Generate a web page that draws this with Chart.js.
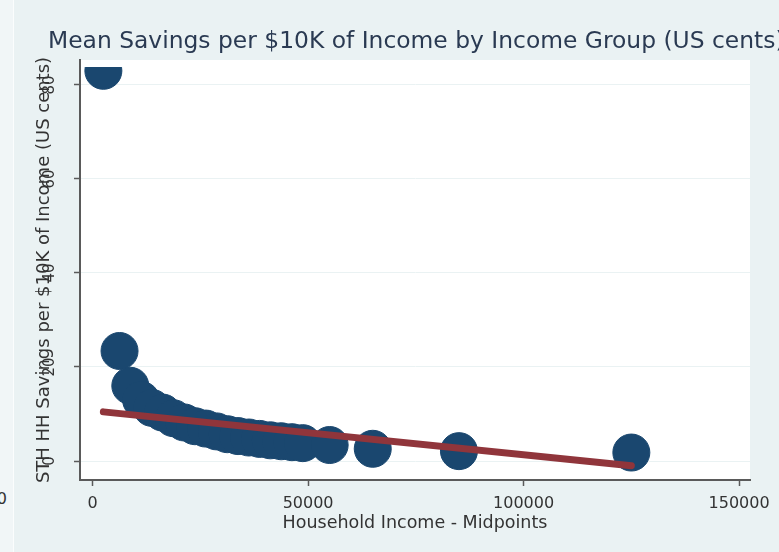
<!DOCTYPE html>
<html>
<head>
<meta charset="utf-8">
<title>Mean Savings per $10K of Income by Income Group</title>
<script src="https://cdn.jsdelivr.net/npm/chart.js@4.4.1/dist/chart.umd.min.js"></script>
<style>
    html, body { margin: 0; padding: 0; }
    body {
        width: 779px;
        height: 552px;
        overflow: hidden;
        position: relative;
        background: #eaf2f3;
        font-family: 'DejaVu Sans', sans-serif;
    }
    /* edge of the neighbouring panel */
    #strip {
        position: absolute;
        left: 0;
        top: 0;
        width: 13px;
        height: 552px;
        background: #f1f6f7;
        border-right: 1px solid #fbfdfd;
        overflow: hidden;
    }
    #strip span {
        position: absolute;
        right: 6px;
        top: 489px;
        font-size: 16px;
        color: #333;
        white-space: nowrap;
    }
    #chart { position: absolute; left: 0; top: 0; }
</style>
</head>
<body>
<div id="strip"><span>150000</span></div>
<canvas id="chart" width="779" height="552"></canvas>
<script>
// Income group midpoints (US$) and mean savings per $10K of income (US cents)
const incomeMidpoints = [
    2500, 6250, 8750, 11250, 13750, 16250, 18750, 21250, 23750, 26250,
    28750, 31250, 33750, 36250, 38750, 41250, 43750, 46250, 48750,
    55000, 65000, 85000, 125000
];
const savingsPer10k = [
    83.0, 23.4, 16.0, 13.0, 11.3, 10.3, 9.1, 8.2, 7.4, 6.9,
    6.3, 5.7, 5.3, 5.0, 4.7, 4.4, 4.2, 4.0, 3.8,
    3.4, 2.6, 2.1, 1.8
];

// Linear fit, evaluated at the two ends of the income range
const fitIncome = [2500, 125000];
const fitSavings = [10.45, -1.0];

const xTicks = [0, 50000, 100000, 150000];
const yTicks = [0, 20, 40, 60, 80];

const titleText = 'Mean Savings per $10K of Income by Income Group (US cents)';
const xTitle = 'Household Income - Midpoints';
const yTitle = 'STH HH Savings per $10K of Income (US cents)';

const FONT = "'DejaVu Sans', sans-serif";
const NAVY = '#1a476f';
const MAROON = '#90353b';
const AXIS = '#5a5a5a';
const TEXT = '#333333';

function toPoints(xs, ys) {
    return xs.map((x, i) => ({ x: x, y: ys[i] }));
}

// White plot region behind the grid
const plotBackground = {
    id: 'plotBackground',
    beforeDraw(chart) {
        const { ctx, chartArea } = chart;
        ctx.save();
        ctx.fillStyle = '#ffffff';
        ctx.fillRect(chartArea.left, chartArea.top,
            chartArea.right - chartArea.left, chartArea.bottom - chartArea.top);
        ctx.restore();
    }
};

// Left-aligned title that runs past the right edge
const leftTitle = {
    id: 'leftTitle',
    afterDraw(chart) {
        const ctx = chart.ctx;
        ctx.save();
        ctx.font = '23.4px ' + FONT;
        ctx.fillStyle = '#2a3a52';
        ctx.textAlign = 'left';
        ctx.textBaseline = 'alphabetic';
        ctx.fillText(titleText, 48, 48);
        ctx.restore();
    }
};

new Chart(document.getElementById('chart'), {
    type: 'scatter',
    data: {
        datasets: [{
            label: 'Fitted values',
            data: toPoints(fitIncome, fitSavings),
            showLine: true,
            borderColor: MAROON,
            borderWidth: 7,
            borderCapStyle: 'round',
            pointRadius: 0,
            pointHoverRadius: 0,
            order: 0
        }, {
            label: 'Mean savings',
            data: toPoints(incomeMidpoints, savingsPer10k),
            backgroundColor: NAVY,
            borderColor: NAVY,
            borderWidth: 1,
            pointRadius: 18.5,
            pointHoverRadius: 18.5,
            clip: { left: false, right: false, bottom: false, top: -7 },
            order: 1
        }]
    },
    options: {
        responsive: false,
        devicePixelRatio: 1,
        animation: false,
        layout: {
            padding: { left: 0, top: 60, right: 29, bottom: 0 }
        },
        plugins: {
            legend: { display: false },
            title: { display: false },
            tooltip: { enabled: false }
        },
        scales: {
            x: {
                type: 'linear',
                position: 'bottom',
                min: -2923,
                max: 152529,
                afterBuildTicks: scale => {
                    scale.ticks = xTicks.map(v => ({ value: v }));
                },
                afterFit: scale => {
                    scale.height = 72;
                },
                grid: {
                    drawOnChartArea: false,
                    drawTicks: true,
                    tickLength: 6,
                    tickColor: AXIS,
                    tickWidth: 1.5
                },
                border: { color: AXIS, width: 2 },
                ticks: {
                    autoSkip: false,
                    maxRotation: 0,
                    padding: 8,
                    color: TEXT,
                    font: { family: FONT, size: 16 },
                    callback: value => String(value)
                },
                title: {
                    display: true,
                    text: xTitle,
                    color: TEXT,
                    font: { family: FONT, size: 17.5 },
                    padding: { top: 0, bottom: 17.7 }
                }
            },
            y: {
                type: 'linear',
                min: -4.04,
                max: 85.3,
                afterBuildTicks: scale => {
                    scale.ticks = yTicks.map(v => ({ value: v }));
                },
                afterFit: scale => {
                    scale.width = 80;
                },
                grid: {
                    color: '#eaf2f3',
                    lineWidth: 1,
                    tickLength: 6,
                    tickColor: AXIS,
                    tickWidth: 1.5
                },
                border: { color: AXIS, width: 2 },
                ticks: {
                    minRotation: 90,
                    maxRotation: 90,
                    crossAlign: 'center',
                    padding: 14,
                    color: TEXT,
                    font: { family: FONT, size: 15 }
                },
                title: {
                    display: true,
                    text: yTitle,
                    color: TEXT,
                    font: { family: FONT, size: 18 },
                    padding: { top: 33.9, bottom: 0 }
                }
            }
        }
    },
    plugins: [plotBackground, leftTitle]
});
</script>
</body>
</html>
